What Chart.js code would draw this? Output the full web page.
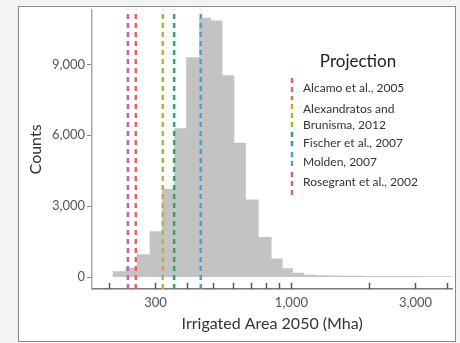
<!DOCTYPE html>
<html>
<head>
<meta charset="utf-8">
<script src="https://cdn.jsdelivr.net/npm/chart.js@4"></script>
<style>
  html, body { margin: 0; padding: 0; }
  body { width: 460px; height: 343px; background: #f3f3f1; position: relative; overflow: hidden; }
  .frame { position: absolute; left: 18px; top: 6px; width: 436px; height: 334px; border: 1px solid #8c8888; background: #fff; }
  #chart { position: absolute; left: 0; top: 0; }
</style>
</head>
<body>
<div class="frame"></div>
<canvas id="chart" width="460" height="343"></canvas>
<script>
// histogram bins (Mha, log spaced) and counts per bin
const binEdges = [205, 230, 254, 285, 318, 354, 394, 442, 491, 543, 603, 668, 748, 839, 924, 1014, 1121, 1246, 1383, 1536, 1706, 1895, 2105, 2338, 2597, 2884, 3203, 3558, 3952, 4390];
const counts = [250, 390, 970, 1940, 3740, 6300, 9300, 10980, 10860, 8540, 5690, 3280, 1700, 790, 370, 180, 100, 75, 65, 60, 55, 50, 45, 45, 40, 40, 35, 35, 35];

// projections of irrigated area in 2050
const projNames = ["Alcamo et al., 2005", ["Alexandratos and", "Brunisma, 2012"], "Fischer et al., 2007", "Molden, 2007", "Rosegrant et al., 2002"];
const projValues = [252, 320, 354, 448, 235];
const projColors = ["#e4646c", "#b4b43a", "#2fa56c", "#3ea7d6", "#bf5fb4"];

const xTicks = [200, 300, 400, 500, 600, 700, 800, 900, 1000, 2000, 3000, 4000];
const xLabels = [300, 1000, 3000];
const yTicks = [0, 3000, 6000, 9000];

const xMin = 171, xMax = 4155;
const yMin = -505, yMax = 11312;

const FONT = "Lato";

// legend boxes (marker spans in canvas px)
const markerSpans = [[78, 100], [104, 128], [132, 150], [152, 168], [172, 196]];
const itemRows = [[88], [109, 125], [143], [162], [182]];

const legendPlugin = {
  id: "projLegend",
  afterDraw(chart) {
    const ctx = chart.ctx;
    ctx.save();
    ctx.fillStyle = "#222";
    ctx.font = "17px " + FONT;
    ctx.textAlign = "center";
    ctx.textBaseline = "middle";
    ctx.fillText("Projection", 358, 62);

    ctx.font = "12px " + FONT;
    ctx.textAlign = "left";
    ctx.fillStyle = "#333";
    projNames.forEach((name, i) => {
      const lines = Array.isArray(name) ? name : [name];
      lines.forEach((ln, j) => ctx.fillText(ln, 303, itemRows[i][j]));
      ctx.strokeStyle = projColors[i];
      ctx.lineWidth = 2.5;
      ctx.setLineDash([5, 4]);
      ctx.beginPath();
      ctx.moveTo(292, markerSpans[i][0]);
      ctx.lineTo(292, markerSpans[i][1]);
      ctx.stroke();
    });
    ctx.restore();
  }
};

const histData = binEdges.map((e, i) => ({ x: e, y: i < counts.length ? counts[i] : 0 }));

const projDatasets = projValues.map((v, i) => ({
  type: "line",
  label: Array.isArray(projNames[i]) ? projNames[i].join(" ") : projNames[i],
  data: [{ x: v, y: yMin }, { x: v, y: yMax }],
  borderColor: projColors[i],
  borderWidth: 2.5,
  borderDash: [5, 4],
  pointRadius: 0,
  fill: false,
  clip: false
}));

new Chart(document.getElementById("chart"), {
  type: "line",
  data: {
    datasets: [
      ...projDatasets,
      {
        label: "Counts",
        data: histData,
        stepped: true,
        fill: "origin",
        backgroundColor: "#c3c3c3",
        borderColor: "#c3c3c3",
        borderWidth: 0,
        pointRadius: 0,
        order: 10
      }
    ]
  },
  options: {
    responsive: false,
    animation: false,
    layout: { padding: { right: 5 } },
    plugins: {
      legend: { display: false },
      tooltip: { enabled: false }
    },
    scales: {
      x: {
        type: "logarithmic",
        min: xMin,
        max: xMax,
        afterBuildTicks: s => { s.ticks = xTicks.map(v => ({ value: v })); },
        afterFit: s => { s.height = 54; },
        ticks: {
          autoSkip: false,
          maxRotation: 0,
          padding: 12,
          color: "#555",
          font: { family: FONT, size: 13 },
          callback: v => xLabels.includes(v) ? v.toLocaleString("en-US") : ""
        },
        grid: { drawOnChartArea: false, tickLength: -6, tickColor: "#555", tickWidth: 1.5 },
        border: { color: "#777", width: 1.5 },
        title: {
          display: true,
          text: "Irrigated Area 2050 (Mha)",
          color: "#333",
          font: { family: FONT, size: 16 },
          padding: { top: 0, bottom: 10 }
        }
      },
      y: {
        min: yMin,
        max: yMax,
        afterBuildTicks: s => { s.ticks = yTicks.map(v => ({ value: v })); },
        afterFit: s => { s.width = 92; },
        ticks: {
          padding: 2,
          color: "#555",
          font: { family: FONT, size: 13 },
          callback: v => v.toLocaleString("en-US")
        },
        grid: { drawOnChartArea: false, tickLength: 5, tickColor: "#888", tickWidth: 1 },
        border: { color: "#aaa", width: 1.5 },
        title: {
          display: true,
          text: "Counts",
          color: "#333",
          font: { family: FONT, size: 16 },
          padding: { top: 26, bottom: 0 }
        }
      }
    }
  },
  plugins: [legendPlugin]
});
</script>
</body>
</html>
